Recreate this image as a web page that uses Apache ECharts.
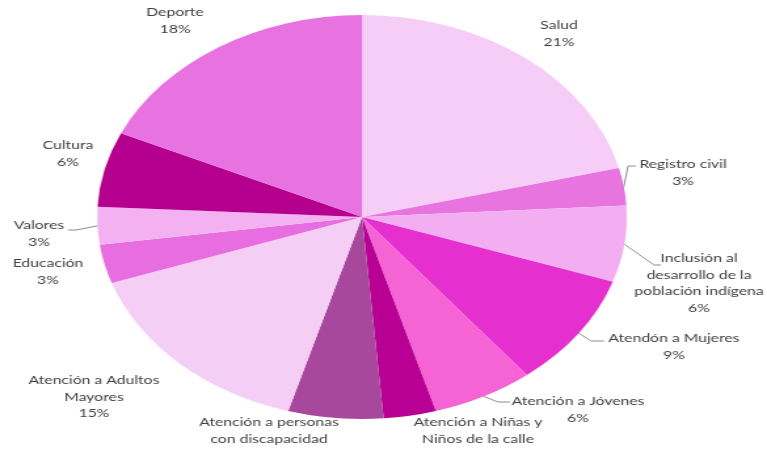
<!DOCTYPE html>
<html>
<head>
<meta charset="utf-8">
<script src="https://cdn.jsdelivr.net/npm/echarts@6/dist/echarts.min.js"></script>
<style>
  html, body { margin: 0; padding: 0; background: #ffffff; overflow: hidden; }
  #wrap { width: 767px; height: 449px; overflow: hidden; position: relative; }
  #chart { width: 585px; height: 449px; transform: scaleX(1.3111); transform-origin: 0 0; }
</style>
</head>
<body>
<div id="wrap"><div id="chart"></div></div>
<script>
// ---- data ----
const categories = [
  "Salud", "Registro civil", "Inclusión al desarrollo de la población indígena",
  "Atendón a Mujeres", "Atención a Jóvenes", "Atención a Niñas y Niños de la calle",
  "Atención a personas con discapacidad", "Atención a Adultos Mayores",
  "Educación", "Valores", "Cultura", "Deporte"
];
const values = [21.1, 3.0, 6.1, 9.1, 6.2, 3.2, 5.8, 15.2, 3.1, 3.0, 6.0, 18.2];
const labelText = [
  "Salud", "Registro civil", "Inclusión al\ndesarrollo de la\npoblación indígena",
  "Atendón a Mujeres", "Atención a Jóvenes", "Atención a Niñas y\nNiños de la calle",
  "Atención a personas\ncon discapacidad", "Atención a Adultos\nMayores",
  "Educación", "Valores", "Cultura", "Deporte"
];

// ---- styling / layout (kept apart from data) ----
const SX = 1.3111;
const colors = ["#F5CDF6", "#E874DF", "#F3AEF1", "#E52FCF", "#F563D5", "#B80094",
                "#A8489C", "#F5CEF6", "#E86DE0", "#F3B1F1", "#B5008F", "#E872E0"];
// label anchor (center x, top y) in page pixels
const labelAnchor = [
  [559, 17], [683, 156], [699, 250], [674, 330], [578, 393], [478, 414],
  [269, 414], [94, 372], [48, 255], [39, 217], [68, 137], [175, 4]
];
// leader line elbow and end (page pixels); null = no leader line
const leaderEnds = [
  null,
  [[628, 166], [636, 166]],
  [[654, 265], [661, 265]],
  [[591, 341], [604, 341]],
  [[498, 402], [510, 402]],
  null, null, null, null,
  [[76, 230], [68, 230]],
  null, null
];

const data = categories.map((name, i) => ({
  name: name,
  value: values[i],
  itemStyle: { color: colors[i] },
  labelLine: { show: leaderEnds[i] !== null }
}));

const chart = echarts.init(document.getElementById('chart'), null, { renderer: 'canvas' });
chart.setOption({
  animation: false,
  series: [{
    type: 'pie',
    center: [362 / SX, 217],
    radius: 202,
    startAngle: 90,
    clockwise: true,
    avoidLabelOverlap: false,
    data: data,
    itemStyle: { borderWidth: 0 },
    emphasis: { disabled: true },
    label: {
      show: true,
      position: 'outside',
      color: '#404040',
      fontFamily: 'Lato, "Open Sans", sans-serif',
      fontSize: 12,
      lineHeight: 16.5,
      align: 'center',
      formatter: p => labelText[p.dataIndex] + '\n' + Math.round(p.percent) + '%'
    },
    labelLine: {
      length: 8,
      length2: 8,
      lineStyle: { color: '#8C8C8C', width: 1 }
    },
    labelLayout: function (params) {
      const i = params.dataIndex;
      const a = labelAnchor[i];
      const out = {
        x: a[0] / SX,
        y: a[1],
        align: 'center',
        verticalAlign: 'top'
      };
      const le = leaderEnds[i];
      if (le && params.labelLinePoints && params.labelLinePoints.length) {
        const start = params.labelLinePoints[0];
        out.labelLinePoints = [
          [start[0], start[1]],
          [le[0][0] / SX, le[0][1]],
          [le[1][0] / SX, le[1][1]]
        ];
      }
      return out;
    }
  }]
});
</script>
</body>
</html>
